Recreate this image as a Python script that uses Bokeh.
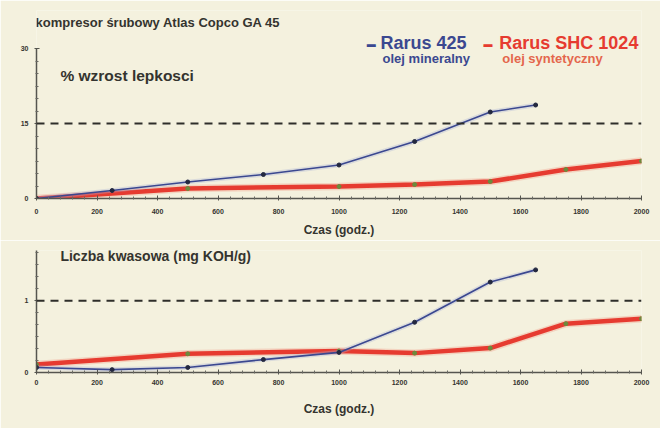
from bokeh.plotting import figure
from bokeh.models import Range1d, FixedTicker, Label, Span
from bokeh.layouts import column
from bokeh.embed import file_html
from bokeh.resources import INLINE

# ---- data ----
hours_ticks = [0, 200, 400, 600, 800, 1000, 1200, 1400, 1600, 1800, 2000]

visc_hours_mineral = [0, 250, 500, 750, 1000, 1250, 1500, 1650]
visc_mineral = [0, 1.6, 3.3, 4.8, 6.7, 11.4, 17.3, 18.7]
visc_hours_synth = [0, 500, 1000, 1250, 1500, 1750, 2000]
visc_synth = [0, 2.0, 2.4, 2.8, 3.4, 5.8, 7.5]
visc_ticks = [0, 15, 30]
visc_limit = 15

acid_hours_mineral = [0, 250, 500, 750, 1000, 1250, 1500, 1650]
acid_mineral = [0.07, 0.04, 0.07, 0.18, 0.28, 0.70, 1.26, 1.43]
acid_hours_synth = [0, 500, 1000, 1250, 1500, 1750, 2000]
acid_synth = [0.11, 0.26, 0.30, 0.27, 0.34, 0.68, 0.75]
acid_ticks = [0, 1]
acid_limit = 1

title_text = "kompresor śrubowy Atlas Copco GA 45"
top_title = "% wzrost lepkosci"
bottom_title = "Liczba kwasowa (mg KOH/g)"
x_label = "Czas (godz.)"
series_mineral = "Rarus 425"
series_mineral_sub = "olej mineralny"
series_synth = "Rarus SHC 1024"
series_synth_sub = "olej syntetyczny"

BG = "#f4f1de"
INK = "#34342f"
BLUE = "#3b4890"
RED = "#e63b30"
FONT = "Liberation Sans"


def style(p, yticks, yminor):
    p.background_fill_color = BG
    p.border_fill_color = BG
    p.outline_line_color = None
    p.grid.visible = False
    p.xaxis.ticker = FixedTicker(ticks=hours_ticks,
                                 minor_ticks=[i * 40 for i in range(51) if i % 5])
    p.yaxis.ticker = FixedTicker(ticks=yticks, minor_ticks=yminor)
    for ax in (p.xaxis[0], p.yaxis[0]):
        ax.axis_line_color = "#55554f"
        ax.axis_line_width = 1.5
        ax.major_tick_line_color = "#55554f"
        ax.minor_tick_line_color = "#6a6a64"
        ax.major_tick_in = 3
        ax.major_tick_out = 2
        ax.minor_tick_in = 2
        ax.minor_tick_out = 1
        ax.major_label_text_font = FONT
        ax.major_label_text_font_style = "bold"
        ax.major_label_text_font_size = "7px"
        ax.major_label_text_color = INK
    p.xaxis.axis_label = x_label
    p.xaxis.axis_label_text_font = FONT
    p.xaxis.axis_label_text_font_style = "bold"
    p.xaxis.axis_label_text_font_size = "12px"
    p.xaxis.axis_label_text_color = INK


def series(p, xs, ys, color, width, halo, mcolor):
    p.line(xs, ys, line_color=halo, line_width=width + 3, line_alpha=0.35)
    p.line(xs, ys, line_color=color, line_width=width)
    p.scatter(xs, ys, size=4, color=mcolor)


def label(p, x, y, text, size, color):
    p.add_layout(Label(x=x, y=y, text=text, text_font=FONT, text_font_style="bold",
                       text_font_size=size, text_color=color, text_baseline="middle"))


# ---- top chart ----
p1 = figure(width=660, height=240, x_range=Range1d(0, 2000), y_range=Range1d(0, 37.6),
            min_border_left=36, min_border_right=19, min_border_top=10, min_border_bottom=42,
            output_backend="svg", toolbar_location=None)
style(p1, visc_ticks, [2.5 * i for i in range(1, 12) if i != 6])
p1.yaxis.bounds = (0, 30)
p1.xaxis.major_label_standoff = 8
p1.xaxis.axis_label_standoff = 6
p1.yaxis.major_label_standoff = 6
p1.add_layout(Span(location=visc_limit, dimension="width", line_color="#2e2e2a",
                   line_width=2, line_dash="8 6"))
series(p1, visc_hours_synth, visc_synth, RED, 4.5, "#f29a86", "#6d8a3c")
series(p1, visc_hours_mineral, visc_mineral, BLUE, 1.6, "#a9b3d8", "#23283f")

label(p1, -3, 35.2, title_text, "13px", INK)
label(p1, 79, 24.6, top_title, "15.5px", INK)
label(p1, 1092, 31.0, "▬", "9px", BLUE)
label(p1, 1137, 31.2, series_mineral, "18px", BLUE)
label(p1, 1144, 28.0, series_mineral_sub, "13px", BLUE)
label(p1, 1478, 31.0, "▬", "9px", RED)
label(p1, 1530, 31.2, series_synth, "18px", RED)
label(p1, 1540, 28.0, series_synth_sub, "13px", "#e4664c")

# ---- bottom chart ----
p2 = figure(width=660, height=188, x_range=Range1d(0, 2000), y_range=Range1d(0, 1.7),
            min_border_left=36, min_border_right=19, min_border_top=10, min_border_bottom=56,
            output_backend="svg", toolbar_location=None)
style(p2, acid_ticks, [i / 6 for i in range(1, 11) if i != 6])
p2.xaxis.major_label_standoff = 5
p2.xaxis.axis_label_standoff = 14
p2.yaxis.major_label_standoff = 6
p2.add_layout(Span(location=acid_limit, dimension="width", line_color="#2e2e2a",
                   line_width=2, line_dash="8 6"))
series(p2, acid_hours_synth, acid_synth, RED, 4.5, "#f29a86", "#6d8a3c")
series(p2, acid_hours_mineral, acid_mineral, BLUE, 1.6, "#a9b3d8", "#23283f")
label(p2, 79, 1.62, bottom_title, "14px", INK)

layout = column(p1, p2, spacing=0)
open("out.html", "w").write(file_html(layout, INLINE))
